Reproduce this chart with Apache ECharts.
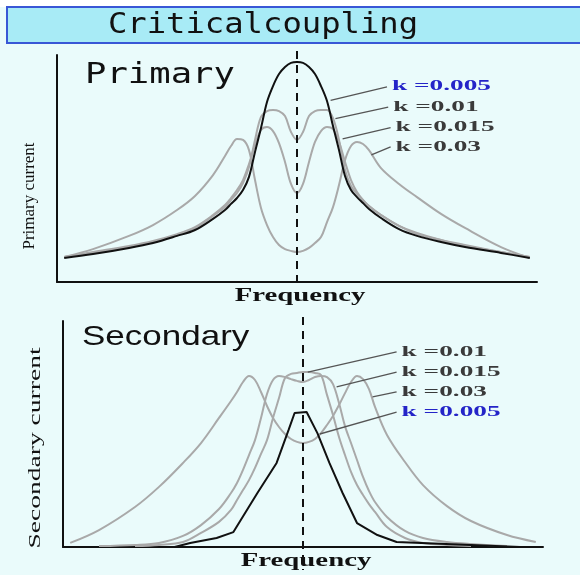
<!DOCTYPE html>
<html>
<head>
<meta charset="utf-8">
<title>Critical coupling</title>
<script src="https://cdn.jsdelivr.net/npm/echarts@6/dist/echarts.min.js"></script>
<style>
  html, body { margin: 0; padding: 0; background: #eafbfb; }
  #main { width: 580px; height: 575px; }
</style>
</head>
<body>
<div id="main"></div>
<script type="text/javascript">
// frequency offset from resonance (shared by most curves)
var freq = [-9.7, -8.5, -7, -6, -5, -4.25, -3.5, -3, -2.75, -2.5, -2.25, -2, -1.75, -1.5, -1.25, -1, -0.75, -0.5, -0.25, 0,
            0.25, 0.5, 0.75, 1, 1.25, 1.5, 1.75, 2, 2.25, 2.5, 2.75, 3, 3.5, 4.25, 5, 6, 7, 8.5, 9.7];

// primary current (relative)
var priK005 = [10.6, 12.3, 15.0, 17.2, 20.3, 22.9, 27.8, 31.7, 34.4, 37.0, 40.5, 46.3, 57.3, 67.8, 79.3, 86.3, 91.6, 94.7, 96.5, 96.9,
               96.5, 94.7, 91.6, 86.3, 79.7, 68.7, 58.1, 46.7, 40.5, 37.4, 34.8, 32.2, 28.2, 23.3, 20.3, 17.6, 15.4, 12.8, 10.6];
var priK01 = [11.0, 12.8, 15.4, 17.6, 20.7, 23.8, 29.1, 33.0, 36.1, 39.2, 43.6, 50.7, 62.6, 72.7, 75.3, 75.8, 75.3, 73.1, 66.1, 62.6,
              66.1, 73.1, 75.3, 75.8, 75.8, 72.2, 62.6, 49.3, 42.3, 38.8, 36.1, 33.5, 29.5, 24.7, 21.1, 18.5, 16.3, 13.2, 11.0];
var priK015 = [11.0, 13.2, 15.9, 18.1, 21.1, 24.2, 29.5, 33.9, 37.0, 40.5, 44.9, 52.0, 60.3, 67.0, 68.3, 66.5, 61.2, 52.9, 43.2, 39.2,
               43.2, 52.9, 61.7, 66.5, 68.3, 67.4, 61.7, 52.9, 44.9, 39.6, 36.1, 33.5, 29.5, 24.7, 21.6, 18.5, 15.9, 13.2, 11.0];
var priK03 = [11.0, 14.5, 20.3, 25.1, 31.7, 37.9, 47.1, 55.5, 59.9, 63.0, 62.6, 58.1, 44.9, 32.6, 25.1, 19.8, 16.3, 14.5, 13.7, 13.2,
              13.7, 15.0, 17.2, 19.8, 26.4, 33.0, 42.7, 53.7, 59.9, 61.7, 60.8, 58.1, 50.2, 43.2, 37.4, 30.0, 23.8, 15.4, 10.6];

// secondary current (relative)
var secK01 = [null, null, 0.4, 0.9, 2.2, 6.2, 11.1, 16.4, 20.8, 25.2, 29.6, 35.0, 41.2, 47.3, 57.1, 65.9, 74.8, 76.6, 77.0, 77.4,
              77.4, 77.0, 76.1, 67.3, 58.4, 48.7, 40.7, 33.2, 27.4, 23.0, 19.0, 15.5, 8.8, 4.0, 1.8, 0.9, 0.4, null, null];
var secK015 = [null, 0.4, 0.9, 1.8, 4.9, 9.7, 16.8, 23.9, 28.3, 34.1, 40.7, 47.3, 57.1, 67.7, 73.9, 75.7, 75.2, 74.3, 73.5, 73.0,
               73.9, 75.2, 75.7, 75.2, 72.1, 63.7, 53.5, 46.0, 38.5, 31.0, 24.8, 19.9, 13.3, 7.1, 4.0, 2.2, 1.3, 0.4, null];
var secK03 = [1.8, 7.5, 17.7, 26.6, 37.2, 46.0, 57.1, 64.6, 68.6, 73.0, 75.7, 73.9, 68.6, 62.4, 57.1, 53.1, 50.0, 47.8, 46.5, 46.0,
              46.5, 47.8, 50.4, 54.0, 58.0, 62.8, 68.1, 73.0, 75.7, 74.3, 69.9, 62.0, 49.6, 37.6, 27.4, 18.1, 11.5, 5.3, 2.2];
var secFreqK005 = [-5.35, -4.7, -3.6, -2.9, -1.9, -1.1, -0.6, -0.35, 0.15, 0.6, 1.1, 1.65, 2.25, 3.1, 3.9, 9.05];
var secK005 = [0, 1.8, 4.0, 6.6, 23.9, 37.2, 51.8, 59.3, 59.7, 50.4, 37.2, 23.9, 10.6, 5.3, 2.2, 0];

// callouts: text, point on the curve, end of the leader
var priLabels = ['k =0.005', 'k =0.01', 'k =0.015', 'k =0.03'];
var priLabelColors = ['#2424c8', '#3a3a3a', '#3a3a3a', '#3a3a3a'];
var priNoteCurve = [[1.4, 80], [1.6, 72], [1.9, 63], [3.1, 56]];
var priNoteText = [[3.75, 86], [3.8, 77], [3.9, 68], [3.9, 59.5]];
var secLabels = ['k =0.01', 'k =0.015', 'k =0.03', 'k =0.005'];
var secLabelColors = ['#3a3a3a', '#3a3a3a', '#3a3a3a', '#2424c8'];
var secNoteCurve = [[0.2, 77.4], [1.4, 70.8], [2.9, 66.4], [0.7, 50]];
var secNoteText = [[3.9, 86.3], [3.9, 77.4], [3.9, 68.6], [3.9, 59.7]];

var BLACK = '#111111';
var GRAY = '#a9a9a9';

function pts(xs, ys) {
    return xs.map(function (x, i) { return [x, ys[i] == null ? '-' : ys[i]]; });
}
function curve(idx, xs, ys, color, smooth) {
    return {
        type: 'line', xAxisIndex: idx, yAxisIndex: idx,
        data: pts(xs, ys), symbol: 'none', smooth: smooth,
        lineStyle: { color: color, width: 2 },
        z: color == BLACK ? 4 : 3, silent: true
    };
}
function axisX(idx) {
    return {
        type: 'value', gridIndex: idx, min: -10, max: 10,
        axisLine: { lineStyle: { color: BLACK, width: 2 } },
        axisTick: { show: false }, axisLabel: { show: false }, splitLine: { show: false }
    };
}
function axisY(idx) {
    return {
        type: 'value', gridIndex: idx, min: 0, max: 100,
        axisLine: { show: true, onZero: false, lineStyle: { color: BLACK, width: 2 } },
        axisTick: { show: false }, axisLabel: { show: false }, splitLine: { show: false }
    };
}

var myChart = echarts.init(document.getElementById('main'));
myChart.setOption({
    backgroundColor: '#eafbfb',
    animation: false,
    grid: [
        { left: 57, top: 55, width: 480, height: 227 },
        { left: 63, top: 321, width: 480, height: 226 }
    ],
    xAxis: [axisX(0), axisX(1)],
    yAxis: [axisY(0), axisY(1)],
    series: [
        curve(0, freq, priK03, GRAY, 0.35),
        curve(0, freq, priK015, GRAY, 0.35),
        curve(0, freq, priK01, GRAY, 0.35),
        curve(0, freq, priK005, BLACK, 0.35),
        curve(1, freq, secK03, GRAY, 0.35),
        curve(1, freq, secK015, GRAY, 0.35),
        curve(1, freq, secK01, GRAY, 0.35),
        curve(1, secFreqK005, secK005, BLACK, false)
    ]
});

// annotations placed through the axes
function px(g, p) { return myChart.convertToPixel({ gridIndex: g }, p); }
function txt(x, y, text, font, color, align, sx, rot) {
    return {
        type: 'text', x: x, y: y, scaleX: sx || 1, rotation: rot || 0, silent: true, z: 10,
        style: { text: text, font: font, fill: color, align: align, verticalAlign: 'middle',
                 textAlign: align, textVerticalAlign: 'middle' }
    };
}
var els = [];
els.push({ type: 'rect', shape: { x: 0, y: 0, width: 580, height: 7 }, style: { fill: '#ffffff' }, z: 5 });
els.push({ type: 'rect', shape: { x: 7, y: 7, width: 600, height: 36 },
           style: { fill: '#a8ebf6', stroke: '#3957d6', lineWidth: 2 }, z: 6 });
els.push(txt(263, 26, 'Criticalcoupling', '28px "DejaVu Sans Mono"', '#111', 'center', 1.15));
els.push(txt(85, 76, 'Primary', '28px "DejaVu Sans Mono"', '#111', 'left', 1.27));
els.push(txt(82, 337, 'Secondary', '28px "Liberation Sans"', '#111', 'left', 1.25));
els.push(txt(30, 196, 'Primary current', '17px "Liberation Serif"', '#111', 'center', 1, Math.PI / 2));
els.push(txt(36, 448, 'Secondary current', '17px "Liberation Serif"', '#111', 'center', 1.62, Math.PI / 2));

[0, 1].forEach(function (g) {
    var c0 = px(g, [0, 0]);
    var c1 = px(g, [0, 100]);
    els.push(txt(c0[0] + 3, c0[1] + 14, 'Frequency', 'bold 18px "Liberation Serif"', '#111', 'center', 1.6));
    els.push({
        type: 'line', z: 8, silent: true,
        shape: { x1: c0[0], y1: c1[1] - 4, x2: c0[0], y2: c0[1] + (g == 0 ? 4 : 23) },
        style: { stroke: BLACK, lineWidth: 2, lineDash: [8, 6] }
    });
    var labels = g == 0 ? priLabels : secLabels;
    var colors = g == 0 ? priLabelColors : secLabelColors;
    var from = g == 0 ? priNoteCurve : secNoteCurve;
    var to = g == 0 ? priNoteText : secNoteText;
    labels.forEach(function (t, i) {
        var a = px(g, from[i]);
        var b = px(g, to[i]);
        els.push({
            type: 'line', z: 8, silent: true,
            shape: { x1: a[0], y1: a[1], x2: b[0], y2: b[1] },
            style: { stroke: '#555', lineWidth: 1.3 }
        });
        els.push(txt(b[0] + 5, b[1], t, 'bold 14px "Liberation Serif"', colors[i], 'left', 1.95));
    });
});
myChart.setOption({ graphic: { elements: els } });
</script>
</body>
</html>
